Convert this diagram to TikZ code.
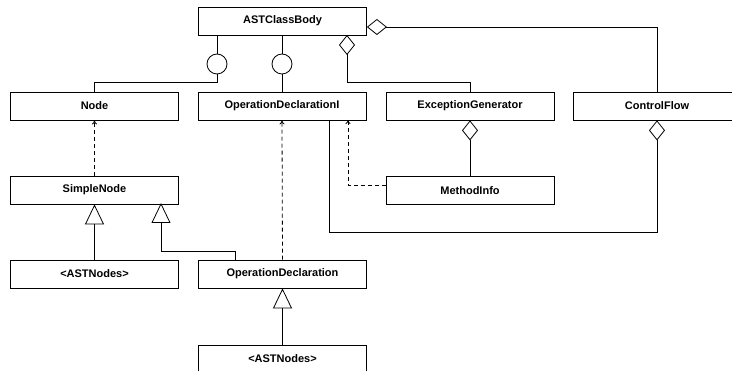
\documentclass[tikz,border=0pt]{standalone}
\usepackage{fontspec}
\setmainfont{Liberation Sans}
\usetikzlibrary{arrows.meta}
\begin{document}
\begin{tikzpicture}[x=1pt,y=-1pt,
  umlclass/.style={draw, line width=0.8pt, minimum width=168pt, minimum height=28pt, inner sep=0pt, font=\fontsize{11}{13}\selectfont\bfseries},
  lollipop/.style={draw, circle, fill=white, line width=0.8pt, minimum size=20pt, inner sep=0pt},
  conn/.style={draw, line width=0.8pt},
  realize/.style={draw, line width=0.8pt, dash pattern=on 4pt off 3pt, -{To[length=4pt,width=5pt]}},
  inherit/.style={draw, line width=0.8pt, -{Triangle[open,width=19pt,length=20pt]}},
  aggr/.style={draw, line width=0.8pt, {Diamond[open,width=16pt,length=20pt]}-}]
\clip (0,0) rectangle (732,371);
\useasboundingbox (0,0) rectangle (732,371);
\node[umlclass] (astbody) at (282.5,21) {ASTClassBody};
\node[umlclass] (node) at (94.5,106) {Node};
\node[umlclass] (opdecli) at (282,106) {OperationDeclarationI};
\node[umlclass] (excgen) at (470,106) {ExceptionGenerator};
\node[umlclass] (ctrlflow) at (657,106) {ControlFlow};
\node[umlclass] (simple) at (94.5,190) {SimpleNode};
\node[umlclass] (methinfo) at (470,190.5) {MethodInfo};
\node[umlclass] (astnodesA) at (94.5,274) {<ASTNodes>};
\node[umlclass] (opdecl) at (282.5,274) {OperationDeclaration};
\node[umlclass] (astnodesB) at (282.5,359) {<ASTNodes>};

\node[lollipop] (lolA) at (217,64) {};
\node[lollipop] (lolB) at (282,64) {};

% interfaces
\path[conn] (lolA) -- (lolA |- astbody.south);
\path[conn] (lolB) -- (lolB |- astbody.south);
\path[conn] (lolA) -- ++(0,18) -| (node.north);
\path[conn] (lolB) -- (opdecli.north);

% aggregations
\path[aggr] (347,35) -- (347,82) -| (excgen.north);
\path[aggr] ([yshift=-6pt]astbody.east) -| (ctrlflow.north);
\path[aggr] (excgen.south) -- (methinfo.north);
\path[aggr] (ctrlflow.south) -- (657,232) -| (329,120);

% realizations
\path[realize] (simple.north) -- (node.south);
\path[realize] (opdecl.north) -- (opdecli.south);
\path[realize] (methinfo.west |- 0,185) -| (348,120);

% generalizations
\path[inherit] (astnodesA.north) -- (simple.south);
\path[inherit] (opdecl.north -| 235,0) |- (161,251) -- (161,203);
\path[inherit] (astnodesB.north) -- (opdecl.south);
\end{tikzpicture}
\end{document}
